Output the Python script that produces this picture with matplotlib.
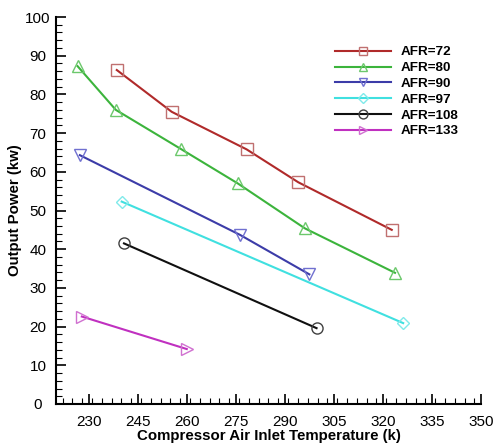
import matplotlib
matplotlib.use("Agg")
import matplotlib.pyplot as plt
from matplotlib.ticker import MultipleLocator

plt.rcParams["font.family"] = ["Liberation Sans", "DejaVu Sans"]

# AFR series: (inlet temperature K, output power kW)
afr72_t = [238.6, 255.4, 278.3, 294.1, 322.7]
afr72_p = [86.3, 75.5, 65.8, 57.3, 45.0]

afr80_t = [226.6, 238.3, 258.2, 275.6, 296.1, 323.7]
afr80_p = [87.3, 76.0, 65.9, 57.0, 45.4, 33.9]

afr90_t = [227.3, 276.3, 297.5]
afr90_p = [64.3, 43.7, 33.5]

afr97_t = [240.1, 326.2]
afr97_p = [52.3, 20.9]

afr108_t = [240.8, 299.7]
afr108_p = [41.5, 19.6]

afr133_t = [227.9, 260.0]
afr133_p = [22.6, 14.2]

series = [
    ("AFR=72", afr72_t, afr72_p, "#b02a2a", "#c07070", "s"),
    ("AFR=80", afr80_t, afr80_p, "#3cb43c", "#6cc86c", "^"),
    ("AFR=90", afr90_t, afr90_p, "#3c3ca8", "#7070d0", "v"),
    ("AFR=97", afr97_t, afr97_p, "#40e0e0", "#80eaea", "D"),
    ("AFR=108", afr108_t, afr108_p, "#101010", "#404040", "o"),
    ("AFR=133", afr133_t, afr133_p, "#c030c0", "#d070d0", ">"),
]

fig = plt.figure(figsize=(4.95, 4.44), dpi=100)
ax = fig.add_axes([0.1131, 0.0901, 0.8586, 0.8716])

for label, t, p, color, edge, marker in series:
    ms = 6.5 if marker == "D" else 8
    ax.plot(t, p, color=color, linewidth=1.5, marker=marker, markersize=ms,
            markerfacecolor="none", markeredgecolor=edge, markeredgewidth=1.0,
            label=label)

ax.set_xlim(220, 350)
ax.set_ylim(0, 100)
ax.xaxis.set_minor_locator(MultipleLocator(3))
ax.set_xticks(range(230, 351, 15))
ax.yaxis.set_major_locator(MultipleLocator(10))
ax.yaxis.set_minor_locator(MultipleLocator(2))

ax.spines["top"].set_visible(False)
ax.spines["right"].set_visible(False)
ax.spines["left"].set_linewidth(1.5)
ax.spines["bottom"].set_linewidth(1.5)
ax.tick_params(which="major", direction="in", length=7, width=1.2, labelsize=11)
ax.tick_params(which="minor", direction="in", length=4, width=0.8)
ax.tick_params(axis="x", which="major", pad=8)
ax.tick_params(axis="y", which="major", pad=13)
for lbl in ax.get_yticklabels():
    lbl.set_horizontalalignment("center")

ax.set_xlabel("Compressor Air Inlet Temperature (k)", fontsize=10.8,
              fontweight="bold", labelpad=0)
ax.set_ylabel("Output Power (kw)", fontsize=10.8, fontweight="bold", labelpad=2)

leg = fig.legend(loc="upper left", bbox_to_anchor=(335 / 495, (444 - 46) / 444),
                 frameon=False, prop={"weight": "bold", "size": 9.7},
                 handlelength=4.15, labelspacing=0.25, handletextpad=0.74,
                 borderpad=0, borderaxespad=0, markerscale=0.8)

fig.savefig("out.png", dpi=100)
